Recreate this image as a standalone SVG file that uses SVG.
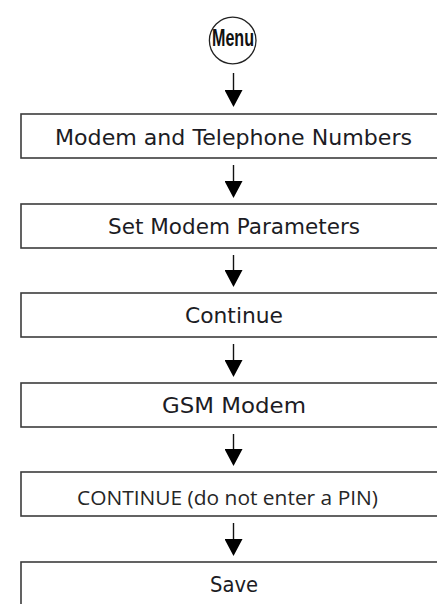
<svg xmlns="http://www.w3.org/2000/svg" width="437" height="604" viewBox="0 0 437 604">
<defs>
<style>
.box{fill:#fff;stroke:#3c3c3c;stroke-width:1.6}
.t{font-family:"DejaVu Sans","Liberation Sans",sans-serif;font-size:21px;fill:#1c1c24;text-anchor:middle}
.tc{font-family:"Open Sans","Liberation Sans",sans-serif;font-size:20px;fill:#262626;text-anchor:middle}
.ln{stroke:#111;stroke-width:1.4;fill:none}
</style>
<marker id="ah" viewBox="0 0 17 18" refX="0" refY="9" markerWidth="17" markerHeight="18" markerUnits="userSpaceOnUse" orient="auto">
<polygon points="0,0 17,9 0,18" fill="#000"/>
</marker>
</defs>
<rect width="437" height="604" fill="#fff"/>
<g id="menu">
<circle cx="232.7" cy="40.5" r="23.3" fill="#fff" stroke="#222" stroke-width="1.3"/>
<text x="233" y="46" font-family="'Liberation Sans',sans-serif" font-size="23" font-weight="bold" fill="#111" text-anchor="middle" textLength="42" lengthAdjust="spacingAndGlyphs">Menu</text>
</g>
<g id="n1">
<rect class="box" x="21" y="114" width="430" height="44"/>
<text class="t" x="233.5" y="145" textLength="357" lengthAdjust="spacingAndGlyphs">Modem and Telephone Numbers</text>
</g>
<g id="n2">
<rect class="box" x="21" y="204" width="430" height="44"/>
<text class="t" x="234" y="234" textLength="252" lengthAdjust="spacingAndGlyphs">Set Modem Parameters</text>
</g>
<g id="n3">
<rect class="box" x="21" y="293" width="430" height="44"/>
<text class="t" x="234" y="323" textLength="98" lengthAdjust="spacingAndGlyphs">Continue</text>
</g>
<g id="n4">
<rect class="box" x="21" y="383" width="430" height="44"/>
<text class="t" x="234" y="413" textLength="144" lengthAdjust="spacingAndGlyphs">GSM Modem</text>
</g>
<g id="n5">
<rect class="box" x="21" y="472" width="430" height="44"/>
<text class="tc" x="227.5" y="505" textLength="301" lengthAdjust="spacingAndGlyphs">CONTINUE (do not enter a PIN)</text>
</g>
<g id="n6">
<rect class="box" x="21" y="562" width="430" height="60"/>
<text class="t" x="234" y="592" textLength="48" lengthAdjust="spacingAndGlyphs">Save</text>
</g>
<g id="connectors">
<line class="ln" x1="233.5" y1="73" x2="233.5" y2="90" marker-end="url(#ah)"/>
<line class="ln" x1="233.5" y1="165" x2="233.5" y2="181" marker-end="url(#ah)"/>
<line class="ln" x1="233.5" y1="255" x2="233.5" y2="270" marker-end="url(#ah)"/>
<line class="ln" x1="233.5" y1="344" x2="233.5" y2="360" marker-end="url(#ah)"/>
<line class="ln" x1="233.5" y1="434" x2="233.5" y2="449" marker-end="url(#ah)"/>
<line class="ln" x1="233.5" y1="523" x2="233.5" y2="539" marker-end="url(#ah)"/>
</g>
</svg>
